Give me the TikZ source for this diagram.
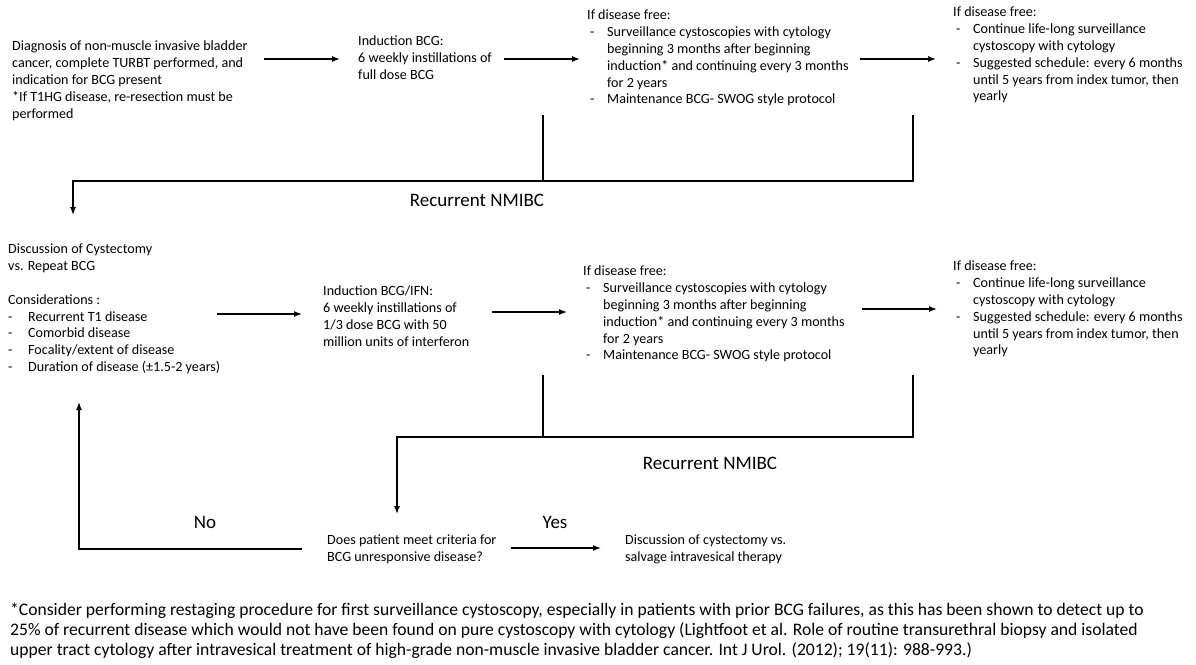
\documentclass[tikz,border=0pt]{standalone}
\usepackage{fontspec}
\setmainfont{Carlito}
\usetikzlibrary{arrows.meta}
\newcommand{\bl}[1]{\makebox[20pt][l]{\hspace{3pt}-}#1}
\newcommand{\cl}[1]{\hspace*{20pt}#1}
\tikzset{
  txt/.style={anchor=north west, align=left, inner sep=0pt,
              font=\fontsize{14.1}{16.8}\selectfont},
  lbl/.style={inner sep=0pt, font=\fontsize{19}{22}\selectfont},
  conn/.style={line width=1.4pt},
  arr/.style={line width=1.4pt, -{Latex[length=8pt,width=6pt]}}
}
\begin{document}
\begin{tikzpicture}[x=1pt,y=-1pt]
  \useasboundingbox (0,0) rectangle (1196,664);
  % first row
  \node[txt] (diag) at (12,41) {Diagnosis of non-muscle invasive bladder\\
    cancer, complete TURBT performed, and\\
    indication for BCG present\\
    *If T1HG disease, re-resection must be\\
    performed};
  \node[txt] (ind) at (358,36) {Induction BCG:\\
    6 weekly instillations of\\
    full dose BCG};
  \node[txt] (surv) at (587,10) {If disease free:\\
    \bl{Surveillance cystoscopies with cytology}\\
    \cl{beginning 3 months after beginning}\\
    \cl{induction* and continuing every 3 months}\\
    \cl{for 2 years}\\
    \bl{Maintenance BCG- SWOG style protocol}};
  \node[txt] (fup) at (953,7) {If disease free:\\
    \bl{Continue life-long surveillance}\\
    \cl{cystoscopy with cytology}\\
    \bl{Suggested schedule: every 6 months}\\
    \cl{until 5 years from index tumor, then}\\
    \cl{yearly}};
  \coordinate (y1) at (0,59);
  \draw[arr] (264,0 |- y1) -- ([xshift=-18pt]ind.west |- y1);
  \draw[arr] (504,0 |- y1) -- (580,0 |- y1);
  \draw[arr] (860,0 |- y1) -- ([xshift=-17pt]fup.west |- y1);
  % first recurrence
  \coordinate (r1a) at (543,115);
  \coordinate (r1b) at (913,115);
  \coordinate (r1c) at (73,181);
  \coordinate (r1d) at (73,215);
  \draw[conn] (r1a) -- (r1a |- r1c);
  \draw[arr] (r1b) |- (r1c) -- (r1d);
  \node[lbl] (rec1) at (477,200) {Recurrent NMIBC};
  % second row
  \node[txt] (disc) at (8,244) {Discussion of Cystectomy\\
    vs. Repeat BCG\\[16.8pt]
    Considerations :\\
    \makebox[20pt][l]{-}Recurrent T1 disease\\
    \makebox[20pt][l]{-}Comorbid disease\\
    \makebox[20pt][l]{-}Focality/extent of disease\\
    \makebox[20pt][l]{-}Duration of disease (±1.5-2 years)};
  \node[txt] (ifn) at (323,286) {Induction BCG/IFN:\\
    6 weekly instillations of\\
    1/3 dose BCG with 50\\
    million units of interferon};
  \node[txt] (surv2) at (583,266) {If disease free:\\
    \bl{Surveillance cystoscopies with cytology}\\
    \cl{beginning 3 months after beginning}\\
    \cl{induction* and continuing every 3 months}\\
    \cl{for 2 years}\\
    \bl{Maintenance BCG- SWOG style protocol}};
  \node[txt] (fup2) at (953,261) {If disease free:\\
    \bl{Continue life-long surveillance}\\
    \cl{cystoscopy with cytology}\\
    \bl{Suggested schedule: every 6 months}\\
    \cl{until 5 years from index tumor, then}\\
    \cl{yearly}};
  \draw[arr] (217,314) -- ([xshift=-21pt]ifn.west |- 0,314);
  \draw[arr] (492,312) -- ([xshift=-16pt]surv2.west |- 0,312);
  \draw[arr] (862,309) -- ([xshift=-16pt]fup2.west |- 0,309);
  % second recurrence
  \coordinate (r2a) at (543,375);
  \coordinate (r2b) at (913,375);
  \coordinate (r2c) at (397,437);
  \coordinate (r2d) at (397,514);
  \draw[conn] (r2a) -- (r2a |- r2c);
  \draw[arr] (r2b) |- (r2c) -- (r2d);
  \node[lbl] (rec2) at (710,463) {Recurrent NMIBC};
  % decision
  \node[txt] (ques) at (327,535) {Does patient meet criteria for\\
    BCG unresponsive disease?};
  \node[txt] (salv) at (625,535) {Discussion of cystectomy vs.\\
    salvage intravesical therapy};
  \coordinate (nob) at (79,402);
  \draw[conn] ([xshift=-25pt]ques.west |- 0,549) -| (nob |- 0,420);
  \draw[arr] (nob |- 0,420) -- (nob);
  \draw[arr] ([xshift=14pt]ques.east |- 0,548) -- ([xshift=-24pt]salv.west |- 0,548);
  \node[lbl] (no) at (205,522) {No};
  \node[lbl] (yes) at (555,522) {Yes};
  % footnote
  \node[anchor=north west, align=left, inner sep=0pt,
        font=\fontsize{17.6}{20}\selectfont] (note) at (10,603)
    {*Consider performing restaging procedure for first surveillance cystoscopy, especially in patients with prior BCG failures, as this has been shown to detect up to\\
     25\% of recurrent disease which would not have been found on pure cystoscopy with cytology (Lightfoot et al. Role of routine transurethral biopsy and isolated\\
     upper tract cytology after intravesical treatment of high-grade non-muscle invasive bladder cancer. Int J Urol. (2012); 19(11): 988-993.)};
\end{tikzpicture}
\end{document}
